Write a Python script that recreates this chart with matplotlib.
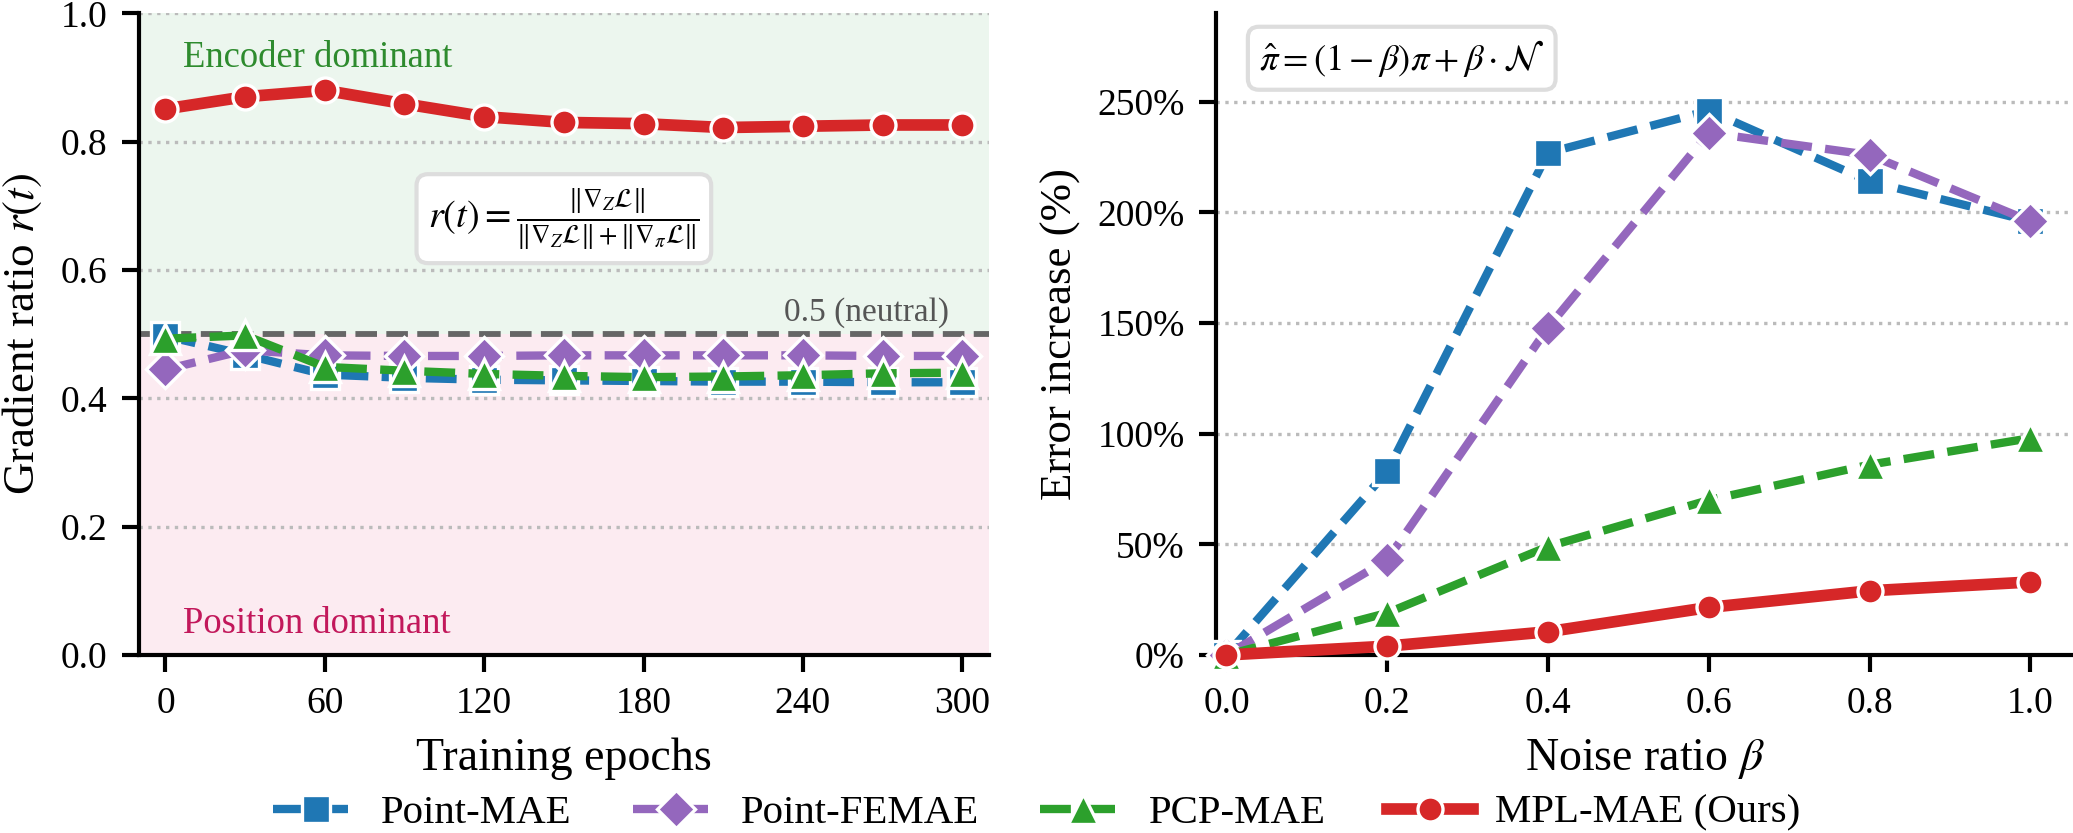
import matplotlib
matplotlib.use("Agg")
import matplotlib.pyplot as plt
import numpy as np

plt.rcParams['font.family'] = ['Liberation Serif', 'DejaVu Serif']
plt.rcParams['mathtext.fontset'] = 'stix'

# ---- data ----
epochs = [0, 30, 60, 90, 120, 150, 180, 210, 240, 270, 300]
r_point_mae = [0.497, 0.468, 0.437, 0.432, 0.429, 0.428, 0.427, 0.426, 0.426, 0.425, 0.425]
r_point_femae = [0.445, 0.475, 0.467, 0.466, 0.466, 0.467, 0.467, 0.467, 0.467, 0.466, 0.466]
r_pcp_mae = [0.493, 0.498, 0.449, 0.443, 0.438, 0.435, 0.433, 0.434, 0.436, 0.439, 0.440]
r_mpl_mae = [0.851, 0.870, 0.880, 0.859, 0.839, 0.830, 0.828, 0.822, 0.824, 0.826, 0.826]

beta = [0.0, 0.2, 0.4, 0.6, 0.8, 1.0]
e_point_mae = [0, 83, 227, 246, 214, 196]
e_point_femae = [0, 43, 148, 236, 226, 196]
e_pcp_mae = [0, 19, 49, 70, 86, 98]
e_mpl_mae = [0, 4, 10.5, 21.5, 29, 33]

names = ['Point-MAE', 'Point-FEMAE', 'PCP-MAE', 'MPL-MAE (Ours)']
colors = ['#1f77b4', '#9467bd', '#2ca02c', '#d62728']
markers = ['s', 'D', '^', 'o']
styles = ['--', '--', '--', '-']
lws = [2.0, 2.0, 2.0, 2.8]
msizes = [6.5, 6.5, 7, 6]

fig = plt.figure(figsize=(2073/300, 833/300), dpi=300)
ax1 = fig.add_axes([0.067, 0.2137, 0.41, 0.7703])
ax2 = fig.add_axes([0.5866, 0.2137, 0.4134, 0.7703])

# ---- left panel ----
ax1.axhspan(0.5, 1.0, color='#ecf6ee', zorder=0, lw=0)
ax1.axhspan(0.0, 0.5, color='#fcebf1', zorder=0, lw=0)
for yv in [0.2, 0.4, 0.6, 0.8, 1.0]:
    ax1.axhline(yv, color='#bbbbbb', ls=':', lw=0.8, zorder=1)
ax1.axhline(0.5, color='#666666', ls='--', lw=1.4, zorder=2)

series1 = [r_point_mae, r_point_femae, r_pcp_mae, r_mpl_mae]
handles = []
for ys, n, c, m, s, lw, ms in zip(series1, names, colors, markers, styles, lws, msizes):
    h, = ax1.plot(epochs, ys, ls=s, color=c, marker=m, lw=lw, ms=ms,
                  markeredgecolor='white', markeredgewidth=0.8, label=n, zorder=3)
    handles.append(h)

ax1.set_xlim(-10, 310)
ax1.set_ylim(0, 1.0)
ax1.set_xticks([0, 60, 120, 180, 240, 300])
ax1.set_yticks([0.0, 0.2, 0.4, 0.6, 0.8, 1.0])
ax1.set_yticklabels(['0.0', '0.2', '0.4', '0.6', '0.8', '1.0'])
ax1.set_xlabel('Training epochs', fontsize=11)
ax1.set_ylabel('Gradient ratio $r(t)$', fontsize=10.8)
ax1.text(6.5, 0.93, 'Encoder dominant', color='#2e8b2e', fontsize=8.8, va='center', ha='left')
ax1.text(6.5, 0.048, 'Position dominant', color='#c2185b', fontsize=8.8, va='center', ha='left')
ax1.text(295, 0.534, '0.5 (neutral)', color='#555555', fontsize=8, va='center', ha='right')
ax1.text(150, 0.68,
         r'$r(t) = \frac{\|\nabla_Z \mathcal{L}\|}{\|\nabla_Z \mathcal{L}\| + \|\nabla_\pi \mathcal{L}\|}$',
         fontsize=9.2, ha='center', va='center',
         bbox=dict(boxstyle='round,pad=0.3', fc='white', ec='#dddddd', lw=1.0))

# ---- right panel ----
for yv in [50, 100, 150, 200, 250]:
    ax2.axhline(yv, color='#bbbbbb', ls=':', lw=0.8, zorder=1)
series2 = [e_point_mae, e_point_femae, e_pcp_mae, e_mpl_mae]
for ys, n, c, m, s, lw, ms in zip(series2, names, colors, markers, styles, lws, msizes):
    ax2.plot(beta, ys, ls=s, color=c, marker=m, lw=lw, ms=ms,
             markeredgecolor='white', markeredgewidth=0.8, label=n, zorder=3, clip_on=False)
ax2.set_xlim(-0.013, 1.053)
ax2.set_ylim(0, 290)
ax2.set_xticks([0.0, 0.2, 0.4, 0.6, 0.8, 1.0])
ax2.set_xticklabels(['0.0', '0.2', '0.4', '0.6', '0.8', '1.0'])
ax2.set_yticks([0, 50, 100, 150, 200, 250])
ax2.set_yticklabels(['0%', '50%', '100%', '150%', '200%', '250%'])
ax2.set_xlabel(r'Noise ratio $\beta$', fontsize=11)
ax2.set_ylabel('Error increase (%)', fontsize=10.8)
ax2.text(0.05, 0.93, r'$\hat{\pi} = (1-\beta)\pi + \beta \cdot \mathcal{N}$',
         transform=ax2.transAxes, fontsize=8.8, ha='left', va='center',
         bbox=dict(boxstyle='round,pad=0.3', fc='white', ec='#dddddd', lw=1.0))

for ax in (ax1, ax2):
    ax.spines['top'].set_visible(False)
    ax.spines['right'].set_visible(False)
    for sp in ('left', 'bottom'):
        ax.spines[sp].set_linewidth(1.0)
    ax.tick_params(labelsize=9, width=1.0, length=4, direction='out')

fig.legend(handles=handles, labels=names, loc='center', bbox_to_anchor=(0.5, 0.024),
           ncol=4, frameon=False, fontsize=9.8, handlelength=2.1, columnspacing=1.5,
           handletextpad=0.55)

fig.savefig('out.png', dpi=300)
